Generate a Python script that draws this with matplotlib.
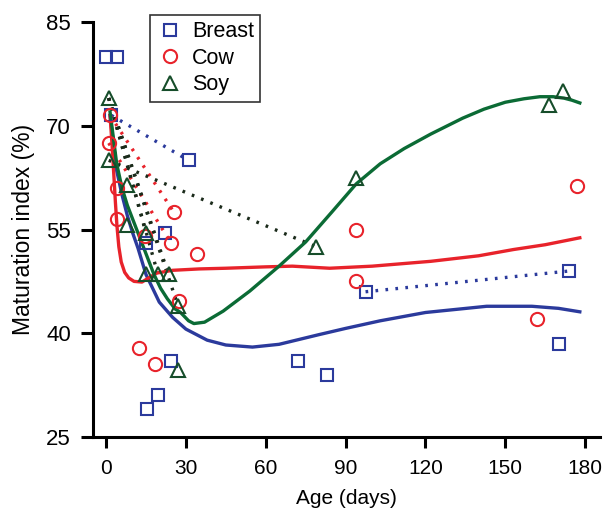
import numpy as np
import matplotlib
matplotlib.use("Agg")
import matplotlib.pyplot as plt

plt.rcParams['font.family'] = ['Liberation Sans', 'DejaVu Sans']

# colours
blue = '#2b3a9c'
red = '#e8232b'
green = '#0b6b35'
tri_edge = '#164d2a'

# measured points (age in days, maturation index %)
breast_x = [0, 4, 2, 31, 15, 22, 24.5, 19.5, 15.5, 72, 83, 97.5, 174, 170]
breast_y = [80, 80, 71.5, 65, 53, 54.5, 36, 31, 29, 36, 34, 46, 49, 38.5]
cow_x = [1.5, 1, 4, 4, 14.5, 25.5, 24.5, 34, 27.5, 12.5, 18.5, 94, 94, 162, 177]
cow_y = [71.5, 67.5, 61, 56.5, 54, 57.5, 53, 51.5, 44.7, 37.8, 35.5, 55, 47.5, 42, 61.3]
soy_x = [1, 1, 8, 8, 15, 15, 19.5, 23.5, 27, 27, 79, 94, 166.5, 171.5]
soy_y = [74, 65, 61.5, 55.7, 54.5, 48.5, 48.5, 48.5, 44, 34.7, 52.5, 62.5, 73, 75]

# repeated measurements of the same infant (dotted lines)
breast_pairs = [((2, 71.5), (31, 65)), ((97.5, 46), (174, 49))]
cow_pairs = [((1.5, 71.5), (25.5, 57.5)), ((1, 67.5), (24.5, 53))]
soy_pairs = [((1, 74), (15, 54.5)), ((1, 74), (19.5, 48.5)), ((1, 74), (23.5, 48.5)),
             ((1, 74), (27, 44)), ((1, 65), (79, 52.5))]

# fitted curves
breast_fit_x = [1.5, 4, 6, 8, 10, 12, 15, 20, 25, 30, 38, 45, 55, 65, 80, 90, 103, 120, 143, 160, 170, 178]
breast_fit_y = [71.5, 63.5, 60, 57, 54.5, 52.3, 48.5, 44.5, 42.3, 40.6, 39, 38.3, 38, 38.4, 39.8, 40.7, 41.8, 43, 43.9, 43.9, 43.6, 43.1]
cow_fit_x = [1.5, 2.3, 2.9, 3.5, 4.1, 4.8, 5.7, 7, 8.5, 10.5, 13.5, 16, 19, 25, 35, 45, 60, 70, 84, 100, 122, 140, 153, 165, 178]
cow_fit_y = [71.5, 67, 63, 59, 55.5, 52.5, 50.3, 48.8, 48, 47.5, 47.4, 48, 48.7, 49.1, 49.3, 49.4, 49.6, 49.7, 49.4, 49.7, 50.4, 51.2, 52.1, 52.8, 53.8]
soy_fit_x = [1.5, 4, 6, 8, 10.5, 13, 16, 18, 20.5, 23, 26, 28, 31, 33, 37, 44, 54, 65, 75, 85, 94, 103, 112, 122, 134, 142, 150, 157, 163, 168, 172, 175, 178]
soy_fit_y = [72, 64.5, 61, 58.5, 56, 53.5, 50.5, 48.5, 46.5, 45, 43.5, 43, 41.8, 41.4, 41.6, 43.2, 46.1, 49.7, 53.2, 57.6, 61.6, 64.5, 66.7, 68.8, 71.1, 72.4, 73.4, 73.9, 74.2, 74.2, 74.0, 73.7, 73.3]

x_ticks = [0, 30, 60, 90, 120, 150, 180]
y_ticks = [25, 40, 55, 70, 85]

fig = plt.figure(figsize=(6.04, 5.12), dpi=100)
ax = fig.add_axes([0.154, 0.1465, 0.839, 0.8105])

dots = (0, (0.8, 2.2))
for (a, b) in breast_pairs:
    ax.plot([a[0], b[0]], [a[1], b[1]], color=blue, lw=2.4, ls=dots, zorder=2)
for (a, b) in cow_pairs:
    ax.plot([a[0], b[0]], [a[1], b[1]], color=red, lw=2.4, ls=dots, zorder=2)
for (a, b) in soy_pairs:
    ax.plot([a[0], b[0]], [a[1], b[1]], color='#1a2a1a', lw=2.4, ls=dots, zorder=2)

ax.plot(breast_fit_x, breast_fit_y, color=blue, lw=2.4, zorder=3)
ax.plot(cow_fit_x, cow_fit_y, color=red, lw=2.4, zorder=3)
ax.plot(soy_fit_x, soy_fit_y, color=green, lw=2.4, zorder=3)

ax.plot(breast_x, breast_y, ls='none', marker='s', ms=9, mfc='none', mec=blue, mew=1.5,
        label='Breast', zorder=4)
ax.plot(cow_x, cow_y, ls='none', marker='o', ms=9.5, mfc='none', mec=red, mew=1.5,
        label='Cow', zorder=4)
ax.plot(soy_x, soy_y, ls='none', marker='^', ms=10, mfc='none', mec=tri_edge, mew=1.5,
        label='Soy', zorder=4)

ax.set_xlim(-4.9, 185.5)
ax.set_ylim(25, 85)
ax.set_xticks(x_ticks)
ax.set_yticks(y_ticks)
for s in ['top', 'right']:
    ax.spines[s].set_visible(False)
for s in ['left', 'bottom']:
    ax.spines[s].set_linewidth(2.2)
ax.tick_params(axis='x', width=2.2, length=8, labelsize=15, pad=8)
ax.tick_params(axis='y', width=2.2, length=9, labelsize=16, pad=7)
ax.set_xlabel('Age (days)', fontsize=15, labelpad=8)
ax.set_ylabel('Maturation index (%)', fontsize=16.5, labelpad=8)

leg = ax.legend(loc='upper left', bbox_to_anchor=(0.112, 1.017), fontsize=15.5, frameon=True,
                fancybox=False, edgecolor='black', handletextpad=0.35, borderpad=0.3,
                labelspacing=0.25, handlelength=1.3, borderaxespad=0)
leg.get_frame().set_linewidth(1.2)

fig.savefig('out.png', dpi=100)
